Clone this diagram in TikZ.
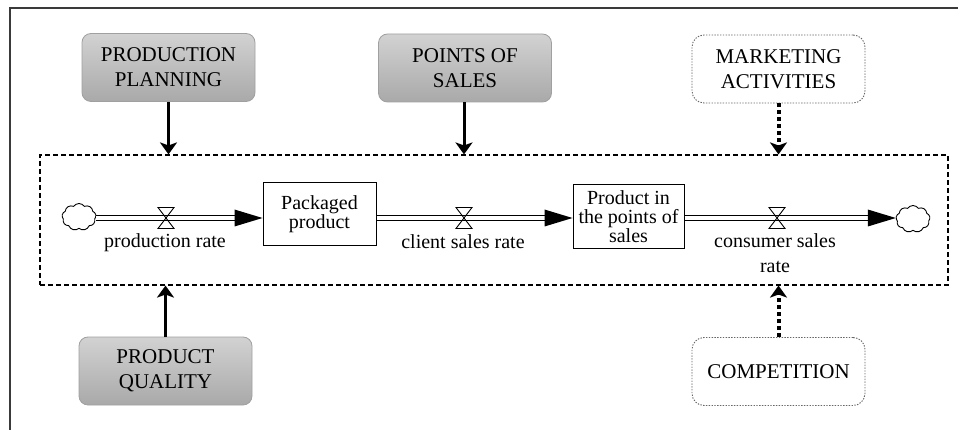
\documentclass[tikz,border=0pt]{standalone}
\usepackage{fontspec}
\setmainfont{Liberation Serif}
\usetikzlibrary{arrows.meta,shapes.symbols,calc}

\definecolor{boxtop}{HTML}{D2D2D2}
\definecolor{boxbot}{HTML}{A9A9A9}
\definecolor{boxline}{HTML}{A0A0A0}
\definecolor{frameline}{HTML}{3A3A3A}

\tikzset{
  factor/.style={minimum width=173pt, minimum height=68pt,
    align=center, inner sep=0pt, font=\fontsize{21}{25}\selectfont},
  graybox/.style={factor, rounded corners=9pt, top color=boxtop, bottom color=boxbot,
    draw=boxline, line width=0.8pt},
  dotbox/.style={factor, rounded corners=12pt, draw=gray!80!black,
    dash pattern=on 1.4pt off 1.4pt, line width=0.9pt},
  stock/.style={draw, line width=1pt, align=center, inner sep=0pt,
    font=\fontsize{20}{19}\selectfont},
  sink/.style={cloud, draw, cloud puffs=9, cloud puff arc=110, aspect=1.2,
    minimum width=34pt, minimum height=27pt, inner sep=0pt, line width=0.9pt},
  pipe/.style={double distance=3.6pt, line width=1.2pt},
  flowtip/.style={fill=black},
  valveshape/.style={line width=0.9pt},
  ratelabel/.style={align=center, font=\fontsize{20}{25}\selectfont, inner sep=0pt},
  boundary/.style={draw, dash pattern=on 5pt off 3pt, line width=1.1pt, inner sep=0pt,
    minimum width=908pt, minimum height=130pt},
  infl/.style={line width=3pt, -{Stealth[length=12pt,width=17pt,inset=3pt]}},
  dotinfl/.style={line width=4pt, dash pattern=on 4pt off 3pt,
    -{Stealth[length=12pt,width=17pt,inset=3pt]}}
}

\begin{document}
\begin{tikzpicture}[x=1pt, y=-1pt]
  \useasboundingbox (0,0) rectangle (958,430);

  % outer frame
  \draw[frameline, line width=1.5pt] (10,430) -- (10,8) -- (958,8);

  % system boundary
  \node[boundary] (sys) at (494,220) {};

  % external factors
  \node[graybox] (pp) at (168.5,67.5) {PRODUCTION\\PLANNING};
  \node[graybox] (ps) at (465,68) {POINTS OF\\SALES};
  \node[dotbox]  (ma) at (778.5,69) {MARKETING\\ACTIVITIES};
  \node[graybox] (pq) at (165.5,371) {PRODUCT\\QUALITY};
  \node[dotbox]  (co) at (778.5,371.5) {COMPETITION};

  % stocks
  \node[stock, minimum width=113pt, minimum height=63pt] (s1) at (319.5,214.5) {Packaged\\product};
  \node[stock, minimum width=111pt, minimum height=64pt] (s2) at (628.5,217) {Product in\\the points of\\sales};

  % source and sink
  \node[sink] (c1) at (79,217) {};
  \node[sink] (c2) at (913,219) {};

  % flow pipes: start and tip points on the flow axis
  \coordinate (axis) at (0,218);
  \coordinate (f1) at (c1.east |- axis);
  \coordinate (t1) at (s1.west |- axis);
  \coordinate (f2) at (s1.east |- axis);
  \coordinate (t2) at (s2.west |- axis);
  \coordinate (f3) at (s2.east |- axis);
  \coordinate (t3) at (c2.west |- axis);

  \draw[pipe] (f1) -- ($(t1)+(-26,0)$);
  \draw[pipe] (f2) -- ($(t2)+(-26,0)$);
  \draw[pipe] (f3) -- ($(t3)+(-26,0)$);
  \fill[flowtip] (t1) -- ++(-28,8.5) -- ++(0,-17) -- cycle;
  \fill[flowtip] (t2) -- ++(-28,8.5) -- ++(0,-17) -- cycle;
  \fill[flowtip] (t3) -- ++(-28,8.5) -- ++(0,-17) -- cycle;

  % valves
  \coordinate (v1) at (166,218);
  \coordinate (v2) at (464,218);
  \coordinate (v3) at (777,218);
  \foreach \v in {v1,v2,v3}
    \draw[valveshape] (\v) ++(-8,-10.5) -- ++(16,0) -- ++(-16,21) -- ++(16,0) -- cycle;

  % rate labels
  \node[ratelabel] (l1) at (165,243) {production rate};
  \node[ratelabel] (l2) at (463,242) {client sales rate};
  \node[ratelabel] (l3) at (775,253.5) {consumer sales\\rate};

  % influences on the system
  \draw[infl] (pp.south) -- (pp.south |- sys.north);
  \draw[infl] (ps.south -| v2) -- (sys.north -| v2);
  \draw[infl] (pq.north) -- (pq.north |- sys.south);
  \draw[dotinfl] (ma.south) -- (ma.south |- sys.north);
  \draw[dotinfl] (co.north) -- (co.north |- sys.south);
\end{tikzpicture}
\end{document}
